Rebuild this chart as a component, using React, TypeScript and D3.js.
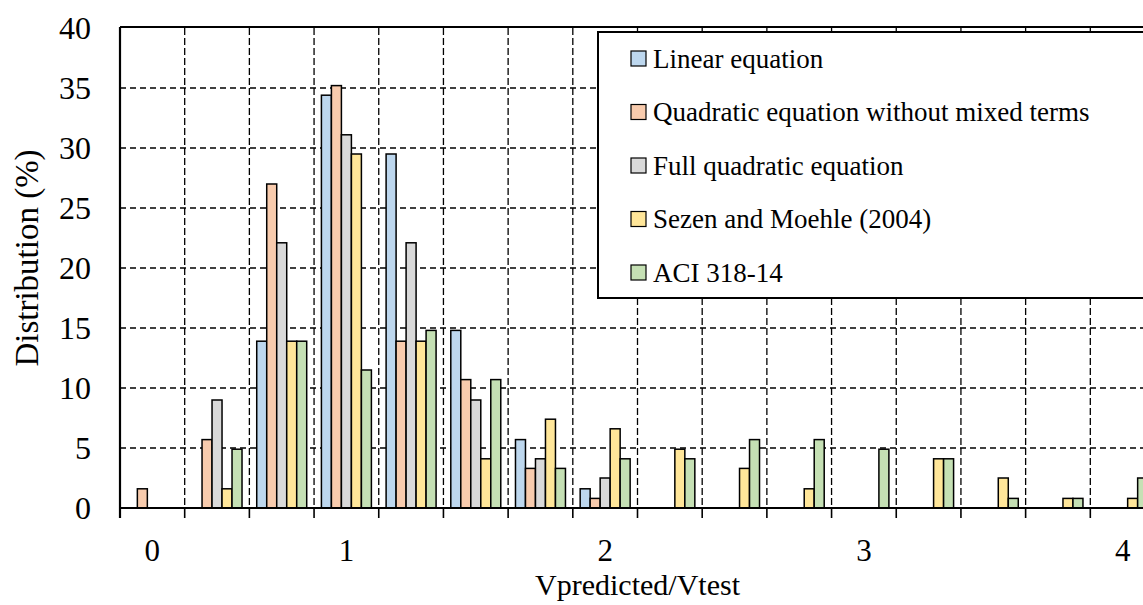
import React from "react";
import * as d3 from "d3";

const bins = [0, 1, 2, 3, 4, 5, 6, 7, 8, 9, 10, 11, 12, 13, 14, 15];
const tickLabels = ["0", "", "", "1", "", "", "", "2", "", "", "", "3", "", "", "", "4"];
const seriesNames = [
  "Linear equation",
  "Quadratic equation without mixed terms",
  "Full quadratic equation",
  "Sezen and Moehle (2004)",
  "ACI 318-14",
];
const seriesColors = ["#BDD7EE", "#F8CBAD", "#D9D9D9", "#FFE699", "#C5E0B4"];
const linearEq = [0, 0, 13.9, 34.4, 29.5, 14.8, 5.7, 1.6, 0, 0, 0, 0, 0, 0, 0, 0];
const quadNoMixed = [1.6, 5.7, 27.0, 35.2, 13.9, 10.7, 3.3, 0.8, 0, 0, 0, 0, 0, 0, 0, 0];
const fullQuad = [0, 9.0, 22.1, 31.1, 22.1, 9.0, 4.1, 2.5, 0, 0, 0, 0, 0, 0, 0, 0];
const sezenMoehle = [0, 1.6, 13.9, 29.5, 13.9, 4.1, 7.4, 6.6, 4.9, 3.3, 1.6, 0, 4.1, 2.5, 0.8, 0.8];
const aci318 = [0, 4.9, 13.9, 11.5, 14.8, 10.7, 3.3, 4.1, 4.1, 5.7, 5.7, 4.9, 4.1, 0.8, 0.8, 2.5];
const yTicks = [0, 5, 10, 15, 20, 25, 30, 35, 40];

const allSeries = [linearEq, quadNoMixed, fullQuad, sezenMoehle, aci318];

const W = 1143;
const H = 605;
const left = 120;
const right = 1155;
const top = 28;
const bottom = 508;
const FONT = '"Liberation Serif", "Times New Roman", serif';

export default function App() {
  const x = d3.scaleBand<number>().domain(bins).range([left, right]).padding(0);
  const bw = x.bandwidth();
  const inner = d3
    .scaleBand<number>()
    .domain(d3.range(seriesNames.length))
    .range([bw * 0.1137, bw * (1 - 0.1137)])
    .padding(0);
  const y = d3.scaleLinear().domain([0, 40]).range([bottom, top]);

  const boundaries = bins.map((b) => x(b)!).concat([right]);

  const legendX = 598;
  const legendY = 32;
  const legendH = 266;
  const rowY0 = 58.5;
  const rowStep = 53.5;

  return (
    <svg
      width={W}
      height={H}
      style={{ position: "absolute", left: 0, top: 0, background: "#fff" }}
      fontFamily={FONT}
    >
      <rect x={0} y={0} width={W} height={H} fill="#fff" />
      {/* horizontal gridlines */}
      {yTicks
        .filter((t) => t > 0 && t < 40)
        .map((t) => (
          <line
            key={"hg" + t}
            x1={left}
            x2={right}
            y1={y(t)}
            y2={y(t)}
            stroke="#000"
            strokeWidth={1.3}
            strokeDasharray="6,4"
          />
        ))}
      {/* vertical gridlines */}
      {boundaries.slice(1, -1).map((bx, i) => (
        <line
          key={"vg" + i}
          x1={bx}
          x2={bx}
          y1={top}
          y2={bottom}
          stroke="#000"
          strokeWidth={1.3}
          strokeDasharray="7,3"
        />
      ))}
      {/* bars */}
      {bins.map((b) =>
        allSeries.map((s, si) =>
          s[b] > 0 ? (
            <rect
              key={"bar" + b + "_" + si}
              x={x(b)! + inner(si)!}
              y={y(s[b])}
              width={inner.bandwidth()}
              height={bottom - y(s[b])}
              fill={seriesColors[si]}
              stroke="#000"
              strokeWidth={1.5}
            />
          ) : null
        )
      )}
      {/* axes */}
      <line x1={left} x2={left} y1={top - 1} y2={bottom + 10} stroke="#000" strokeWidth={2.2} />
      <line x1={left} x2={right} y1={top - 1} y2={top - 1} stroke="#000" strokeWidth={2.2} />
      <line x1={left} x2={right} y1={bottom} y2={bottom} stroke="#000" strokeWidth={2.2} />
      {boundaries.map((bx, i) => (
        <line key={"xt" + i} x1={bx} x2={bx} y1={bottom} y2={bottom + 10} stroke="#000" strokeWidth={1.6} />
      ))}
      {/* y tick labels */}
      {yTicks.map((t) => (
        <text key={"yl" + t} x={91} y={y(t)} dy="0.35em" textAnchor="end" fontSize={32} fill="#000">
          {t}
        </text>
      ))}
      {/* x tick labels */}
      {bins.map((b, i) =>
        tickLabels[i] ? (
          <text key={"xl" + b} x={x(b)! + bw / 2} y={561} textAnchor="middle" fontSize={31} fill="#000">
            {tickLabels[i]}
          </text>
        ) : null
      )}
      {/* axis titles */}
      <text x={(left + right) / 2} y={595} textAnchor="middle" fontSize={30} fill="#000">
        Vpredicted/Vtest
      </text>
      <text
        transform={`translate(38, 258) rotate(-90)`}
        textAnchor="middle"
        fontSize={33}
        fill="#000"
      >
        Distribution (%)
      </text>
      {/* legend */}
      <rect x={legendX} y={legendY} width={600} height={legendH} fill="#fff" stroke="#000" strokeWidth={2} />
      {seriesNames.map((name, i) => (
        <g key={"lg" + i} transform={`translate(0, ${rowY0 + i * rowStep})`}>
          <rect x={631} y={-7.5} width={15} height={15} fill={seriesColors[i]} stroke="#000" strokeWidth={1.2} />
          <text x={653} y={0} dy="0.35em" fontSize={27} fill="#000">
            {name}
          </text>
        </g>
      ))}
    </svg>
  );
}
